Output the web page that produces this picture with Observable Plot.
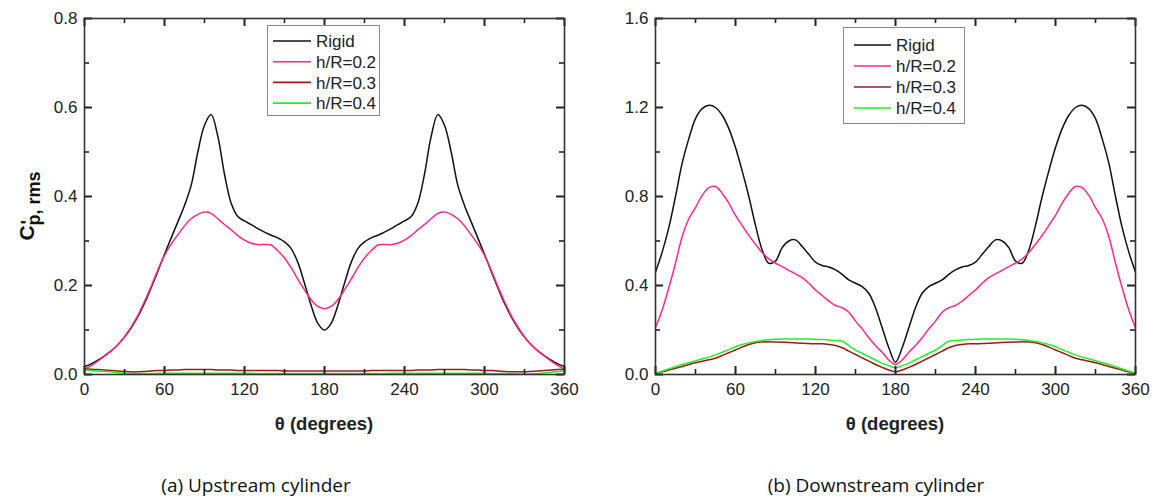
<!DOCTYPE html>
<html><head><meta charset="utf-8">
<script src="https://cdn.jsdelivr.net/npm/d3@7"></script>
<script src="https://cdn.jsdelivr.net/npm/@observablehq/plot@0.6"></script>
<style>
body{margin:0;background:#fff;}
#wrap{position:relative;width:1160px;height:500px;font-family:"Liberation Sans",Arial,sans-serif;color:#222;overflow:hidden;}
.panel{position:absolute;top:0;}
.xtitle{position:absolute;font-weight:bold;font-size:18.5px;transform:translate(-50%,-50%);white-space:nowrap;}
.caption{position:absolute;font-family:"Open Sans","Noto Sans",sans-serif;font-size:19px;transform:translate(-50%,-50%);white-space:nowrap;color:#111;}
.legend{position:absolute;border:1px solid #8a8a8a;background:#fff;}
</style></head><body><div id="wrap"></div>
<script>
const theta = [0,5,10,15,20,25,30,35,40,45,50,55,60,65,70,75,80,85,90,95,100,105,110,115,120,125,130,135,140,145,150,155,160,165,170,175,180,
185,190,195,200,205,210,215,220,225,230,235,240,245,250,255,260,265,270,275,280,285,290,295,300,305,310,315,320,325,330,335,340,345,350,355,360];

const seriesNames = ["Rigid","h/R=0.2","h/R=0.3","h/R=0.4"];
const seriesColors = ["#111111","#ff2a8c","#981c1c","#22ee22"];

// (a) Upstream cylinder
const upRigid = [0.018,0.024,0.032,0.042,0.053,0.067,0.084,0.105,0.130,0.160,0.195,0.232,0.270,0.307,0.343,0.380,0.425,0.500,0.560,0.584,0.535,0.450,0.385,0.355,0.345,0.337,0.328,0.320,0.313,0.307,0.298,0.283,0.252,0.205,0.155,0.115,0.100,
0.115,0.155,0.205,0.252,0.283,0.298,0.307,0.313,0.320,0.328,0.337,0.345,0.355,0.385,0.450,0.535,0.584,0.560,0.500,0.425,0.380,0.343,0.307,0.270,0.232,0.195,0.160,0.130,0.105,0.084,0.067,0.053,0.042,0.032,0.024,0.018];
const upH02 = [0.012,0.020,0.030,0.041,0.053,0.067,0.085,0.107,0.133,0.164,0.198,0.235,0.268,0.293,0.314,0.334,0.350,0.360,0.365,0.362,0.350,0.337,0.325,0.312,0.302,0.295,0.292,0.292,0.291,0.278,0.262,0.240,0.214,0.190,0.168,0.153,0.148,
0.153,0.168,0.190,0.214,0.240,0.262,0.278,0.291,0.292,0.292,0.295,0.302,0.312,0.325,0.337,0.350,0.362,0.365,0.360,0.350,0.334,0.314,0.293,0.268,0.235,0.198,0.164,0.133,0.107,0.085,0.067,0.053,0.041,0.030,0.020,0.012];
const upH03 = [0.013,0.012,0.011,0.010,0.009,0.008,0.007,0.006,0.006,0.007,0.008,0.009,0.009,0.010,0.010,0.011,0.011,0.011,0.011,0.011,0.010,0.010,0.010,0.009,0.009,0.009,0.009,0.009,0.009,0.009,0.008,0.008,0.008,0.008,0.008,0.008,0.008,
0.008,0.008,0.008,0.008,0.008,0.008,0.009,0.009,0.009,0.009,0.009,0.009,0.009,0.010,0.010,0.010,0.011,0.011,0.011,0.011,0.011,0.010,0.010,0.009,0.009,0.008,0.007,0.006,0.006,0.006,0.007,0.008,0.009,0.010,0.011,0.012];
const upH04 = [0.010,0.009,0.008,0.007,0.006,0.004,0.003,0.002,0.002,0.002,0.002,0.003,0.003,0.003,0.003,0.003,0.003,0.003,0.003,0.003,0.003,0.003,0.003,0.003,0.003,0.003,0.002,0.002,0.002,0.002,0.002,0.002,0.002,0.002,0.002,0.002,0.002,
0.002,0.002,0.002,0.002,0.002,0.002,0.002,0.002,0.002,0.003,0.003,0.003,0.003,0.003,0.003,0.003,0.003,0.003,0.003,0.003,0.003,0.003,0.003,0.003,0.002,0.002,0.002,0.002,0.001,0.001,0.001,0.002,0.004,0.005,0.007,0.008];

// (b) Downstream cylinder
const downRigid = [0.46,0.55,0.66,0.80,0.95,1.06,1.15,1.195,1.21,1.20,1.165,1.105,1.02,0.915,0.80,0.67,0.56,0.50,0.51,0.57,0.600,0.605,0.575,0.54,0.505,0.49,0.483,0.47,0.45,0.425,0.41,0.395,0.365,0.30,0.21,0.12,0.055,
0.12,0.21,0.30,0.365,0.395,0.41,0.425,0.45,0.47,0.483,0.49,0.505,0.54,0.575,0.605,0.600,0.57,0.51,0.50,0.56,0.67,0.80,0.915,1.02,1.105,1.165,1.20,1.21,1.195,1.15,1.06,0.95,0.80,0.66,0.55,0.46];
const downH02 = [0.21,0.29,0.39,0.50,0.62,0.70,0.75,0.805,0.84,0.845,0.815,0.77,0.715,0.67,0.625,0.585,0.548,0.52,0.50,0.485,0.468,0.452,0.435,0.41,0.38,0.355,0.33,0.31,0.30,0.28,0.24,0.205,0.165,0.13,0.10,0.065,0.045,
0.065,0.10,0.13,0.165,0.205,0.24,0.28,0.30,0.31,0.33,0.355,0.38,0.41,0.435,0.452,0.468,0.485,0.50,0.52,0.548,0.585,0.625,0.67,0.715,0.77,0.815,0.845,0.84,0.805,0.75,0.70,0.62,0.50,0.39,0.29,0.21];
const downH03 = [0.005,0.012,0.020,0.028,0.036,0.045,0.053,0.060,0.066,0.073,0.085,0.098,0.110,0.123,0.135,0.143,0.146,0.147,0.146,0.145,0.144,0.142,0.140,0.139,0.138,0.138,0.135,0.130,0.120,0.105,0.090,0.075,0.060,0.045,0.032,0.020,0.012,
0.020,0.032,0.045,0.060,0.075,0.090,0.105,0.120,0.130,0.135,0.138,0.138,0.139,0.140,0.142,0.144,0.145,0.146,0.147,0.146,0.143,0.135,0.123,0.110,0.098,0.085,0.073,0.066,0.060,0.053,0.045,0.036,0.028,0.020,0.012,0.005];
const downH04 = [0.006,0.015,0.025,0.035,0.045,0.053,0.062,0.070,0.078,0.088,0.100,0.112,0.125,0.135,0.142,0.148,0.153,0.156,0.158,0.159,0.160,0.160,0.160,0.159,0.158,0.157,0.155,0.153,0.150,0.130,0.110,0.095,0.080,0.065,0.050,0.040,0.030,
0.040,0.050,0.065,0.080,0.095,0.110,0.130,0.150,0.153,0.155,0.157,0.158,0.159,0.160,0.160,0.160,0.159,0.158,0.156,0.153,0.148,0.142,0.135,0.125,0.112,0.100,0.088,0.078,0.070,0.062,0.053,0.045,0.035,0.025,0.015,0.006];

const xMajor = [0,60,120,180,240,300,360];
const xMinor = [30,90,150,210,270,330];
const yMajorA = [0,0.2,0.4,0.6,0.8];
const yMinorA = [0.1,0.3,0.5,0.7];
const yMajorB = [0,0.4,0.8,1.2,1.6];
const yMinorB = [0.2,0.6,1.0,1.4];

const xTitle = "θ (degrees)";
const yTitle = ["C", "'", "p, rms"];
const captions = ["(a) Upstream cylinder","(b) Downstream cylinder"];

function toRows(arrays){
  const rows = [];
  arrays.forEach((arr,si)=>arr.forEach((v,i)=>rows.push({theta:theta[i], value:v, series:seriesNames[si]})));
  return rows;
}

const W = 580, H = 440, MT = 18, MB = 66, PW = 480, PH = H - MT - MB;

function panel({arrays, yMax, yMajor, yMinor, left, marginLeft, marginRight}){
  const fmt = d3.format(".1f");
  const M = 8, m = 5;               // inward tick lengths (px)
  const xu = 360 / PW, yu = yMax / PH; // px -> data units
  const tc = "#222";
  const chart = Plot.plot({
    width: W, height: H,
    marginLeft, marginRight, marginTop: MT, marginBottom: MB,
    x: {domain:[0,360]},
    y: {domain:[0,yMax]},
    color: {domain: seriesNames, range: seriesColors},
    style: {fontFamily:"'Liberation Sans', Arial, sans-serif", fontSize:"17px", color:"#222", background:"transparent", overflow:"visible"},
    marks: [
      Plot.line(toRows(arrays), {x:"theta", y:"value", z:"series", stroke:"series", strokeWidth:1.5, curve:"catmull-rom"}),
      Plot.ruleX(xMajor, {x:d=>d, y1:0, y2:M*yu, stroke:tc, strokeWidth:2}),
      Plot.ruleX(xMinor, {x:d=>d, y1:0, y2:m*yu, stroke:tc, strokeWidth:1.6}),
      Plot.ruleX(xMajor, {x:d=>d, y1:yMax, y2:yMax - M*yu, stroke:tc, strokeWidth:2}),
      Plot.ruleX(xMinor, {x:d=>d, y1:yMax, y2:yMax - m*yu, stroke:tc, strokeWidth:1.6}),
      Plot.ruleY(yMajor, {y:d=>d, x1:0, x2:M*xu, stroke:tc, strokeWidth:2}),
      Plot.ruleY(yMinor, {y:d=>d, x1:0, x2:m*xu, stroke:tc, strokeWidth:1.6}),
      Plot.ruleY(yMajor, {y:d=>d, x1:360, x2:360 - M*xu, stroke:tc, strokeWidth:2}),
      Plot.ruleY(yMinor, {y:d=>d, x1:360, x2:360 - m*xu, stroke:tc, strokeWidth:1.6}),
      Plot.axisX(xMajor, {anchor:"bottom", tickSize:0, tickPadding:8, label:null, fill:"#222"}),
      Plot.axisY(yMajor, {anchor:"left", tickSize:0, tickPadding:7, label:null, tickFormat:fmt, fill:"#222"}),
      Plot.frame({stroke:"#333", strokeWidth:1.6})
    ]
  });
  chart.classList.add("panel");
  chart.style.left = left + "px";
  return chart;
}

const wrap = document.getElementById("wrap");
wrap.appendChild(panel({arrays:[upRigid,upH02,upH03,upH04], yMax:0.8, yMajor:yMajorA, yMinor:yMinorA, left:0, marginLeft:84, marginRight:16}));
wrap.appendChild(panel({arrays:[downRigid,downH02,downH03,downH04], yMax:1.6, yMajor:yMajorB, yMinor:yMinorB, left:580, marginLeft:75, marginRight:25}));

function addDiv(cls, html, x, y){
  const d = document.createElement("div");
  d.className = cls; d.textContent = html;
  d.style.left = x + "px"; d.style.top = y + "px";
  wrap.appendChild(d);
  return d;
}
addDiv("xtitle", xTitle, 324, 424);
addDiv("xtitle", xTitle, 895, 424);
addDiv("caption", captions[0], 256, 485);
addDiv("caption", captions[1], 876, 485);

// rotated y title: C' with subscript "p, rms"
{
  const svg = d3.create("svg").attr("width", 80).attr("height", 440)
    .style("position","absolute").style("left","0px").style("top","0px");
  const g = svg.append("g").attr("transform","translate(34,206) rotate(-90)")
    .attr("font-family","'Liberation Sans', Arial, sans-serif").attr("font-weight","bold").attr("fill","#111");
  const t = g.append("text").attr("text-anchor","middle");
  t.append("tspan").attr("font-size",21).text(yTitle[0]);
  t.append("tspan").attr("font-size",18).attr("dy",6).text(yTitle[2]);
  const cw = 0.722*21, total = cw + 3.0*18;
  g.append("text").attr("x", -total/2 + cw + 1).attr("y", 0).attr("font-size",19).text(yTitle[1]);
  wrap.appendChild(svg.node());
}

function legend(x, y, w, h, firstRow, step, lineX0, lineX1, textX){
  const div = document.createElement("div");
  div.className = "legend";
  div.style.left = x + "px"; div.style.top = y + "px";
  div.style.width = w + "px"; div.style.height = h + "px";
  const svg = d3.create("svg").attr("width", w).attr("height", h);
  seriesNames.forEach((name,i)=>{
    const cy = firstRow + i*step;
    svg.append("line").attr("x1", lineX0).attr("x2", lineX1).attr("y1", cy).attr("y2", cy)
      .attr("stroke", seriesColors[i]).attr("stroke-width", 1.6);
    svg.append("text").attr("x", textX).attr("y", cy).attr("dy","0.36em")
      .attr("font-family","'Liberation Sans', Arial, sans-serif").attr("font-size", 17).attr("fill","#222").text(name);
  });
  div.appendChild(svg.node());
  wrap.appendChild(div);
}
legend(267, 25, 111, 89, 15, 20.7, 5, 43, 48);
legend(843, 27, 120, 95, 17, 21, 10, 47, 52);
</script>
</body></html>
